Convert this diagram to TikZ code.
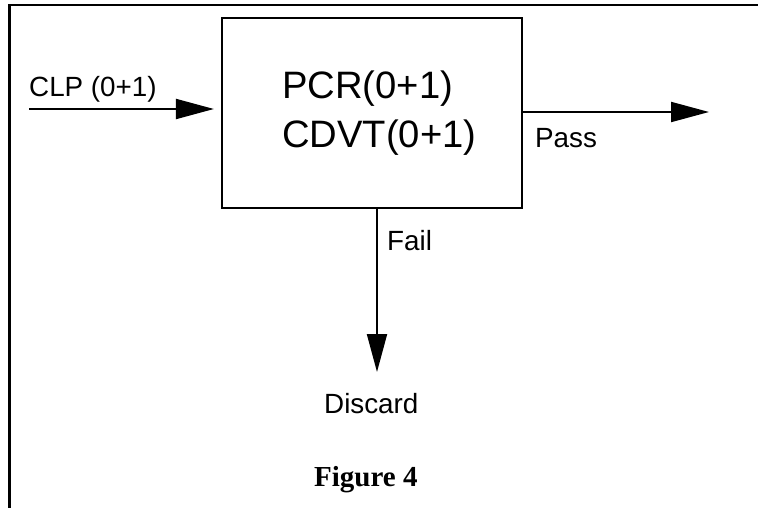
\documentclass[tikz,border=0pt]{standalone}
\usepackage{fontspec}
\setmainfont{Liberation Sans}
\newfontfamily\capfont{Liberation Serif}
\usetikzlibrary{arrows.meta}
\begin{document}
\begin{tikzpicture}[x=1pt,y=-1pt,
  frameline/.style={line width=2.6pt},
  flow/.style={line width=2pt,-{Triangle[length=38pt,width=20pt]}},
  lbl/.style={anchor=base west,inner sep=0pt,font=\fontsize{27.8}{32}\selectfont},
  boxtext/.style={anchor=base west,inner sep=0pt,font=\fontsize{38.2}{44}\selectfont}]
\useasboundingbox (0,0) rectangle (758,508);
% outer frame (left and top edges only)
\draw[frameline] (9.5,508) -- (9.5,5) -- (758,5);
% process block
\node[draw,line width=2.2pt,minimum width=300pt,minimum height=190pt,inner sep=0pt] (box) at (372,113) {};
\node[boxtext] (pcr) at (282,99) {PCR(0+1)};
\node[boxtext] (cdvt) at (282,148) {CDVT(0+1)};
% labels
\node[lbl] (clp) at (29,97) {CLP (0+1)};
\node[lbl] (pass) at (535,148) {Pass};
\node[lbl] (fail) at (387,250) {Fail};
\node[lbl] (discard) at (324,413) {Discard};
\node[anchor=base west,inner sep=0pt,font=\capfont\bfseries\fontsize{29}{34}\selectfont] (fig) at (314,486) {Figure 4};
% connector end points
\coordinate (inS) at (29,109);
\coordinate (passE) at (709,112);
\coordinate (failE) at (377,372);
% connectors
\draw[flow,shorten >=7pt] (inS) -- (inS -| box.west);
\draw[flow] (passE -| box.east) -- (passE);
\draw[flow] (failE |- box.south) -- (failE);
\end{tikzpicture}
\end{document}
